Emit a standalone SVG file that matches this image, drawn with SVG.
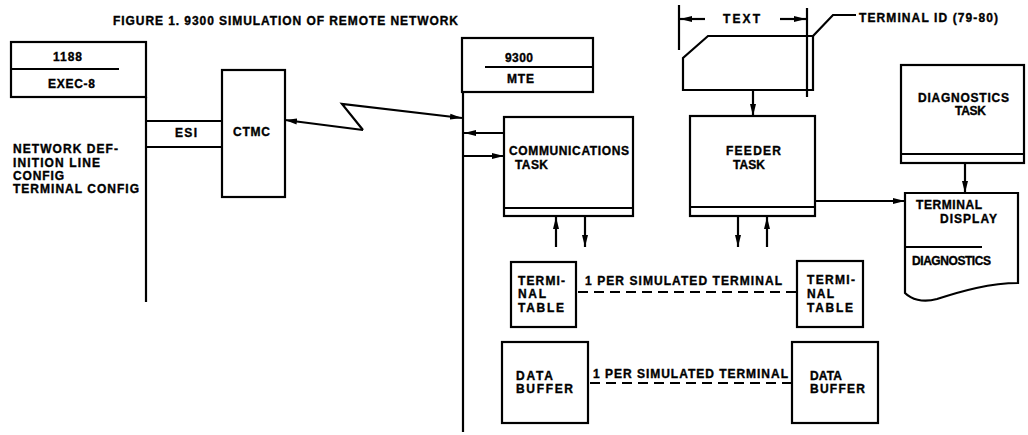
<svg xmlns="http://www.w3.org/2000/svg" width="1028" height="435" viewBox="0 0 1028 435">
<defs>
<marker id="ah" markerUnits="userSpaceOnUse" markerWidth="13" markerHeight="7" refX="12" refY="3.5" orient="auto">
<path d="M0,0.5 L12,3.5 L0,6.5 Z" fill="#000"/>
</marker>
</defs>
<style>
.b{fill:none;stroke:#000;stroke-width:2.2}
.w{fill:#fff;stroke:#000;stroke-width:2.2}
.t{font-family:"Liberation Sans",Arial,sans-serif;font-weight:bold;font-size:12px;fill:#000;stroke:#000;stroke-width:0.35}
.c line,.c path{fill:none;stroke:#000;stroke-width:2.2}
.a{marker-end:url(#ah)}
.d{stroke-dasharray:10 6}
</style>
<rect width="1028" height="435" fill="#fff"/>
<text class="t" x="113" y="25" font-size="11" textLength="345" lengthAdjust="spacing">FIGURE 1. 9300 SIMULATION OF REMOTE NETWORK</text>

<g id="host1188">
<rect class="b" x="11" y="42" width="135" height="55"/>
<line class="b" x1="11" y1="69" x2="119" y2="69"/>
<line class="b" x1="146" y1="97" x2="146" y2="302"/>
<text class="t" x="53" y="61" textLength="29" lengthAdjust="spacing">1188</text>
<text class="t" x="48" y="88" textLength="47" lengthAdjust="spacing">EXEC-8</text>
<text class="t" x="13" y="153" textLength="105" lengthAdjust="spacing">NETWORK DEF-</text>
<text class="t" x="13" y="167" textLength="87" lengthAdjust="spacing">INITION LINE</text>
<text class="t" x="13" y="180" textLength="51" lengthAdjust="spacing">CONFIG</text>
<text class="t" x="13" y="193" textLength="126" lengthAdjust="spacing">TERMINAL CONFIG</text>
</g>

<g id="esi">
<line class="b" x1="146" y1="121" x2="222" y2="121"/>
<line class="b" x1="146" y1="147" x2="222" y2="147"/>
<text class="t" x="175" y="137" textLength="22" lengthAdjust="spacing">ESI</text>
</g>

<g id="ctmc">
<rect class="w" x="222" y="70" width="63" height="127"/>
<text class="t" x="233" y="136" textLength="37" lengthAdjust="spacing">CTMC</text>
</g>

<g id="mte9300">
<rect class="b" x="462" y="38" width="131" height="54"/>
<line class="b" x1="485" y1="67" x2="593" y2="67"/>
<line class="b" x1="463" y1="92" x2="463" y2="432"/>
<text class="t" x="505" y="62" textLength="28" lengthAdjust="spacing">9300</text>
<text class="t" x="507" y="83" textLength="27" lengthAdjust="spacing">MTE</text>
</g>

<g id="commtask">
<rect class="w" x="504" y="117" width="129" height="99"/>
<line class="b" x1="504" y1="208" x2="633" y2="208"/>
<text class="t" x="509" y="155" textLength="120" lengthAdjust="spacing">COMMUNICATIONS</text>
<text class="t" x="515" y="169" textLength="33" lengthAdjust="spacing">TASK</text>
</g>

<g id="termtable1">
<rect class="w" x="511" y="262" width="65" height="65"/>
<text class="t" x="518" y="285" textLength="47" lengthAdjust="spacing">TERMI-</text>
<text class="t" x="518" y="298" textLength="28" lengthAdjust="spacing">NAL</text>
<text class="t" x="518" y="312" textLength="46" lengthAdjust="spacing">TABLE</text>
</g>

<g id="databuf1">
<rect class="w" x="502" y="342" width="86" height="81"/>
<text class="t" x="516" y="380" textLength="37" lengthAdjust="spacing">DATA</text>
<text class="t" x="516" y="393" textLength="57" lengthAdjust="spacing">BUFFER</text>
</g>

<g id="card">
<path class="w" d="M708,36 L813,36 L813,90 L683,90 L683,58 Z"/>
<line class="b" x1="679" y1="5" x2="679" y2="50"/>
<line class="b" x1="807" y1="8" x2="807" y2="97"/>
<text class="t" x="723" y="23" textLength="37" lengthAdjust="spacing">TEXT</text>
<text class="t" x="859" y="22" textLength="139" lengthAdjust="spacing">TERMINAL ID (79-80)</text>
</g>

<g id="feeder">
<rect class="w" x="690" y="116" width="125" height="100"/>
<line class="b" x1="690" y1="207" x2="815" y2="207"/>
<text class="t" x="726" y="155" textLength="55" lengthAdjust="spacing">FEEDER</text>
<text class="t" x="733" y="169" textLength="32" lengthAdjust="spacing">TASK</text>
</g>

<g id="diagtask">
<rect class="w" x="901" y="65" width="123" height="98"/>
<line class="b" x1="901" y1="154" x2="1024" y2="154"/>
<text class="t" x="918" y="102" textLength="91" lengthAdjust="spacing">DIAGNOSTICS</text>
<text class="t" x="955" y="115" textLength="31" lengthAdjust="spacing">TASK</text>
</g>

<g id="display">
<path class="w" d="M905,193 L1018,193 L1018,283 C990,283 962,291 937,299 C922,303 911,299 905,293 Z"/>
<line class="b" x1="905" y1="247" x2="982" y2="247"/>
<text class="t" x="916" y="209" textLength="66" lengthAdjust="spacing">TERMINAL</text>
<text class="t" x="940" y="223" textLength="57" lengthAdjust="spacing">DISPLAY</text>
<text class="t" x="912" y="265" font-size="11" textLength="79" lengthAdjust="spacing">DIAGNOSTICS</text>
</g>

<g id="termtable2">
<rect class="w" x="797" y="261" width="66" height="66"/>
<text class="t" x="807" y="284" textLength="48" lengthAdjust="spacing">TERMI-</text>
<text class="t" x="807" y="298" textLength="27" lengthAdjust="spacing">NAL</text>
<text class="t" x="807" y="312" textLength="46" lengthAdjust="spacing">TABLE</text>
</g>

<g id="databuf2">
<rect class="w" x="792" y="342" width="86" height="81"/>
<text class="t" x="810" y="380" textLength="32" lengthAdjust="spacing">DATA</text>
<text class="t" x="810" y="393" textLength="55" lengthAdjust="spacing">BUFFER</text>
</g>

<g id="connectors" class="c">
<path class="a" d="M363,130 L285,120"/>
<path class="a" d="M363,130 L342,104 L462,118"/>
<path class="a" d="M504,133 L464,133"/>
<path class="a" d="M464,156 L504,156"/>
<path class="a" d="M556,247 L556,217"/>
<path class="a" d="M585,217 L585,247"/>
<path class="a" d="M738,217 L738,247"/>
<path class="a" d="M767,247 L767,217"/>
<path class="a" d="M753,90 L753,116"/>
<path class="a" d="M815,201 L905,201"/>
<path class="a" d="M965,163 L965,193"/>
<path class="a" d="M705,19 L680,19"/>
<path class="a" d="M780,19 L806,19"/>
<path d="M813,36 L833,15 L856,15"/>
<path class="d" d="M578,292 L797,292"/>
<path class="d" d="M590,383 L792,383"/>
<text class="t" x="585" y="285" textLength="197" lengthAdjust="spacing">1 PER SIMULATED TERMINAL</text>
<text class="t" x="593" y="378" textLength="195" lengthAdjust="spacing">1 PER SIMULATED TERMINAL</text>
</g>
</svg>
